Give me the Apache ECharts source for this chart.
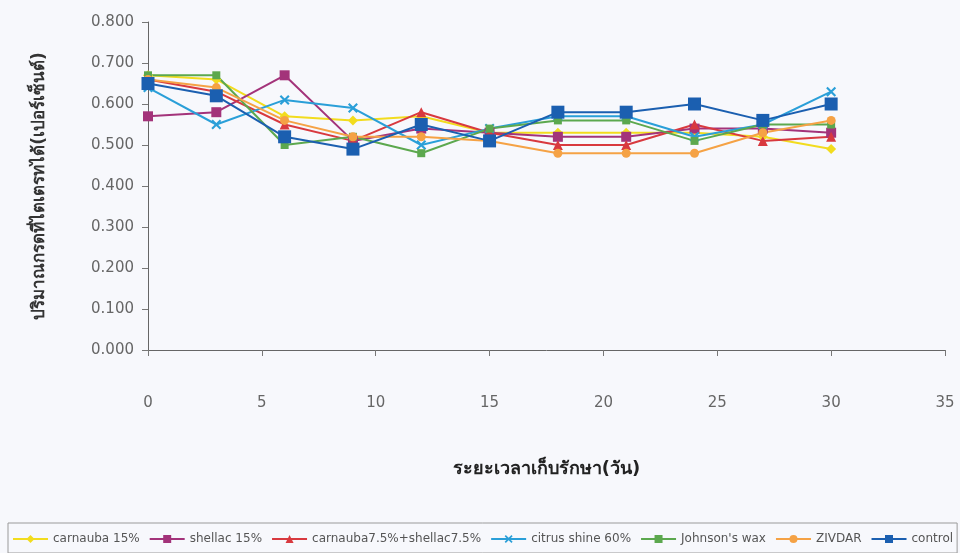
<!doctype html>
<html>
<head>
<meta charset="UTF-8">
<title>ปริมาณกรดที่ไตเตรทได้</title>
<script src="https://cdn.jsdelivr.net/npm/echarts@6/dist/echarts.min.js"></script>
<style>
  html, body { margin: 0; padding: 0; background: #f7f8fc; }
  #main { width: 960px; height: 553px; }
</style>
</head>
<body>
<div id="main"></div>
<script>
// วันเก็บรักษา
var days = [0, 3, 6, 9, 12, 15, 18, 21, 24, 27, 30];

var carnauba   = [0.67, 0.66, 0.57, 0.56, 0.57, 0.53, 0.53, 0.53, 0.53, 0.52, 0.49];
var shellac    = [0.57, 0.58, 0.67, 0.51, 0.54, 0.53, 0.52, 0.52, 0.54, 0.54, 0.53];
var carnShell  = [0.66, 0.63, 0.55, 0.51, 0.58, 0.53, 0.50, 0.50, 0.55, 0.51, 0.52];
var citrus     = [0.64, 0.55, 0.61, 0.59, 0.50, 0.54, 0.57, 0.57, 0.52, 0.55, 0.63];
var johnson    = [0.67, 0.67, 0.50, 0.52, 0.48, 0.54, 0.56, 0.56, 0.51, 0.55, 0.55];
var zivdar     = [0.66, 0.64, 0.56, 0.52, 0.52, 0.51, 0.48, 0.48, 0.48, 0.53, 0.56];
var control    = [0.65, 0.62, 0.52, 0.49, 0.55, 0.51, 0.58, 0.58, 0.60, 0.56, 0.60];

var names = ['carnauba 15%', 'shellac 15%', 'carnauba7.5%+shellac7.5%', 'citrus shine 60%', "Johnson's wax", 'ZIVDAR', 'control'];

var crossPath = 'path://M0,1.5L1.5,0L10,8.5L8.5,10Z M8.5,0L10,1.5L1.5,10L0,8.5Z';

function pairs(vals) {
    var out = [];
    for (var i = 0; i < days.length; i++) {
        out.push([days[i], vals[i]]);
    }
    return out;
}

function mkSeries(name, vals, color, symbol, size) {
    return {
        name: name,
        type: 'line',
        data: pairs(vals),
        symbol: symbol,
        symbolSize: size,
        lineStyle: { color: color, width: 2 },
        itemStyle: { color: color },
        emphasis: { disabled: true }
    };
}

var myChart = echarts.init(document.getElementById('main'));

var option = {
    backgroundColor: '#f7f8fc',
    animation: false,
    textStyle: { fontFamily: 'DejaVu Sans, Noto Sans, sans-serif' },
    grid: { left: 148, right: 15, top: 22, bottom: 203 },
    legend: {
        bottom: 0,
        left: 8,
        padding: [10, 4, 8, 4],
        borderColor: '#9a9a9a',
        borderWidth: 1,
        itemWidth: 35,
        itemHeight: 10,
        itemGap: 9,
        textStyle: { fontSize: 12, color: '#555' },
        data: names
    },
    xAxis: {
        type: 'value',
        min: 0,
        max: 35,
        interval: 5,
        name: 'ระยะเวลาเก็บรักษา(วัน)',
        nameLocation: 'middle',
        nameGap: 110,
        nameTextStyle: { fontSize: 18, fontWeight: 'bold', color: '#222' },
        axisLine: { lineStyle: { color: '#666' } },
        axisTick: { inside: false, length: 6, lineStyle: { color: '#777' } },
        axisLabel: { margin: 46, fontSize: 15, color: '#666' },
        splitLine: { show: false }
    },
    yAxis: {
        type: 'value',
        min: 0,
        max: 0.8,
        interval: 0.1,
        name: 'ปริมาณกรดที่ไตเตรทได้(เปอร์เซ็นต์)',
        nameLocation: 'middle',
        nameRotate: 90,
        nameGap: 100,
        nameTextStyle: { fontSize: 17, fontWeight: 'bold', color: '#333' },
        axisLine: { show: true, lineStyle: { color: '#666' } },
        axisTick: { show: true, length: 6, lineStyle: { color: '#777' } },
        axisLabel: {
            margin: 14,
            fontSize: 15,
            color: '#666',
            formatter: function (v) { return v.toFixed(3); }
        },
        splitLine: { show: false }
    },
    series: [
        mkSeries(names[0], carnauba, '#f2dc1e', 'diamond', 10),
        mkSeries(names[1], shellac, '#a3337a', 'rect', 10),
        mkSeries(names[2], carnShell, '#d8393f', 'triangle', 10),
        mkSeries(names[3], citrus, '#2a9fd8', crossPath, 10),
        mkSeries(names[4], johnson, '#5ca84e', 'rect', 8),
        mkSeries(names[5], zivdar, '#f5a245', 'circle', 9),
        mkSeries(names[6], control, '#1b5fb0', 'rect', 13)
    ]
};

myChart.setOption(option);
</script>
</body>
</html>
